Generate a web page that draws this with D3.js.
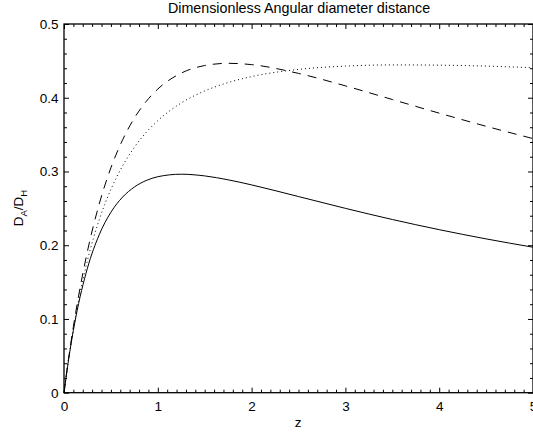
<!DOCTYPE html>
<html>
<head>
<meta charset="utf-8">
<script src="https://cdn.jsdelivr.net/npm/d3@7"></script>
<style>
  body { margin: 0; background: #fff; }
  svg { display: block; font-family: "Liberation Sans", Arial, sans-serif; }
</style>
</head>
<body>
<script>
// redshift samples
const zValues = [0, 0.05, 0.1, 0.125, 0.25, 0.375, 0.5, 0.625, 0.75, 0.875, 1, 1.25, 1.5, 1.75, 2, 2.5, 3, 3.5, 4, 4.5, 5];

// solid curve
const solidValues = [0, 0.0459, 0.0846, 0.1017, 0.1689, 0.2141, 0.2447, 0.2653, 0.2789, 0.2877, 0.2929,
  0.2963, 0.2940, 0.2887, 0.2818, 0.2660, 0.2500, 0.2349, 0.2211, 0.2086, 0.1973];
// dotted curve
const dottedValues = [0, 0.0465, 0.0867, 0.1048, 0.1794, 0.2343, 0.2757, 0.3077, 0.3328, 0.3528, 0.3689,
  0.3929, 0.4092, 0.4206, 0.4287, 0.4384, 0.4429, 0.4445, 0.4442, 0.4429, 0.4407];
// dashed curve
const dashedValues = [0, 0.0473, 0.0895, 0.1089, 0.1919, 0.2557, 0.3050, 0.3430, 0.3724, 0.3948, 0.4118,
  0.4334, 0.4437, 0.4467, 0.4449, 0.4330, 0.4161, 0.3976, 0.3791, 0.3613, 0.3446];

const xTicks = [0, 1, 2, 3, 4, 5];
const yTicks = [0, 0.1, 0.2, 0.3, 0.4, 0.5];

const width = 533, height = 434;
const plot = { left: 64, right: 533, top: 24, bottom: 392.7 };

const svg = d3.select('body').append('svg')
  .attr('width', width)
  .attr('height', height);

const x = d3.scaleLinear().domain([0, 5]).range([plot.left, plot.right]);
const y = d3.scaleLinear().domain([0, 0.5]).range([plot.bottom, plot.top]);

const xMinor = d3.range(0, 50).map(i => i / 10).filter(v => !xTicks.includes(v));
const yMinor = d3.range(0, 25).map(i => i / 50).filter(v => Math.abs(v * 10 - Math.round(v * 10)) > 1e-6);

function styleAxis(g) {
  g.selectAll('path').remove();
  g.selectAll('line').attr('stroke', '#000').attr('stroke-width', 1);
  g.selectAll('text').attr('fill', '#000').style('font-size', '13.5px');
}

// bottom
svg.append('g').attr('transform', `translate(0,${plot.bottom})`)
  .call(d3.axisBottom(x).tickValues(xTicks).tickSize(-5).tickFormat(d3.format('d')))
  .call(styleAxis)
  .call(g => g.selectAll('text').attr('dy', '0.71em').attr('y', 9));
svg.append('g').attr('transform', `translate(0,${plot.bottom})`)
  .call(d3.axisBottom(x).tickValues(xMinor).tickSize(-3).tickFormat(''))
  .call(styleAxis);
// top
svg.append('g').attr('transform', `translate(0,${plot.top})`)
  .call(d3.axisTop(x).tickValues(xTicks).tickSize(-5).tickFormat(''))
  .call(styleAxis);
svg.append('g').attr('transform', `translate(0,${plot.top})`)
  .call(d3.axisTop(x).tickValues(xMinor).tickSize(-3).tickFormat(''))
  .call(styleAxis);
// left
svg.append('g').attr('transform', `translate(${plot.left},0)`)
  .call(d3.axisLeft(y).tickValues(yTicks).tickSize(-5).tickFormat(d => d === 0 ? '0' : d3.format('.1f')(d)))
  .call(styleAxis)
  .call(g => g.selectAll('text').attr('x', -5.5));
svg.append('g').attr('transform', `translate(${plot.left},0)`)
  .call(d3.axisLeft(y).tickValues(yMinor).tickSize(-3).tickFormat(''))
  .call(styleAxis);
// right
svg.append('g').attr('transform', `translate(${plot.right},0)`)
  .call(d3.axisRight(y).tickValues(yTicks).tickSize(-5).tickFormat(''))
  .call(styleAxis);
svg.append('g').attr('transform', `translate(${plot.right},0)`)
  .call(d3.axisRight(y).tickValues(yMinor).tickSize(-3).tickFormat(''))
  .call(styleAxis);

// frame
svg.append('rect')
  .attr('x', plot.left).attr('y', plot.top)
  .attr('width', plot.right - plot.left).attr('height', plot.bottom - plot.top)
  .attr('fill', 'none').attr('stroke', '#000').attr('stroke-width', 1.3);

const line = d3.line().x(d => x(d[0])).y(d => y(d[1])).curve(d3.curveMonotoneX);

const series = [
  { values: solidValues, dash: null },
  { values: dottedValues, dash: '1,3' },
  { values: dashedValues, dash: '9,7' }
];

svg.selectAll('path.curve')
  .data(series)
  .join('path')
  .attr('class', 'curve')
  .attr('d', s => line(zValues.map((z, i) => [z, s.values[i]])))
  .attr('fill', 'none')
  .attr('stroke', '#000')
  .attr('stroke-width', 1)
  .attr('stroke-dasharray', s => s.dash);

// title
svg.append('text')
  .attr('x', 299).attr('y', 13)
  .attr('text-anchor', 'middle')
  .style('font-size', '14.3px')
  .text('Dimensionless Angular diameter distance');

// x label
svg.append('text')
  .attr('x', 298).attr('y', 427)
  .attr('text-anchor', 'middle')
  .style('font-size', '13.5px')
  .text('z');

// y label
const yl = svg.append('text')
  .attr('transform', 'translate(23,208) rotate(-90)')
  .attr('text-anchor', 'middle')
  .style('font-size', '13.5px');
yl.append('tspan').text('D');
yl.append('tspan').attr('dy', 4).style('font-size', '9.5px').text('A');
yl.append('tspan').attr('dy', -4).text('/D');
yl.append('tspan').attr('dy', 4).style('font-size', '9.5px').text('H');
</script>
</body>
</html>
